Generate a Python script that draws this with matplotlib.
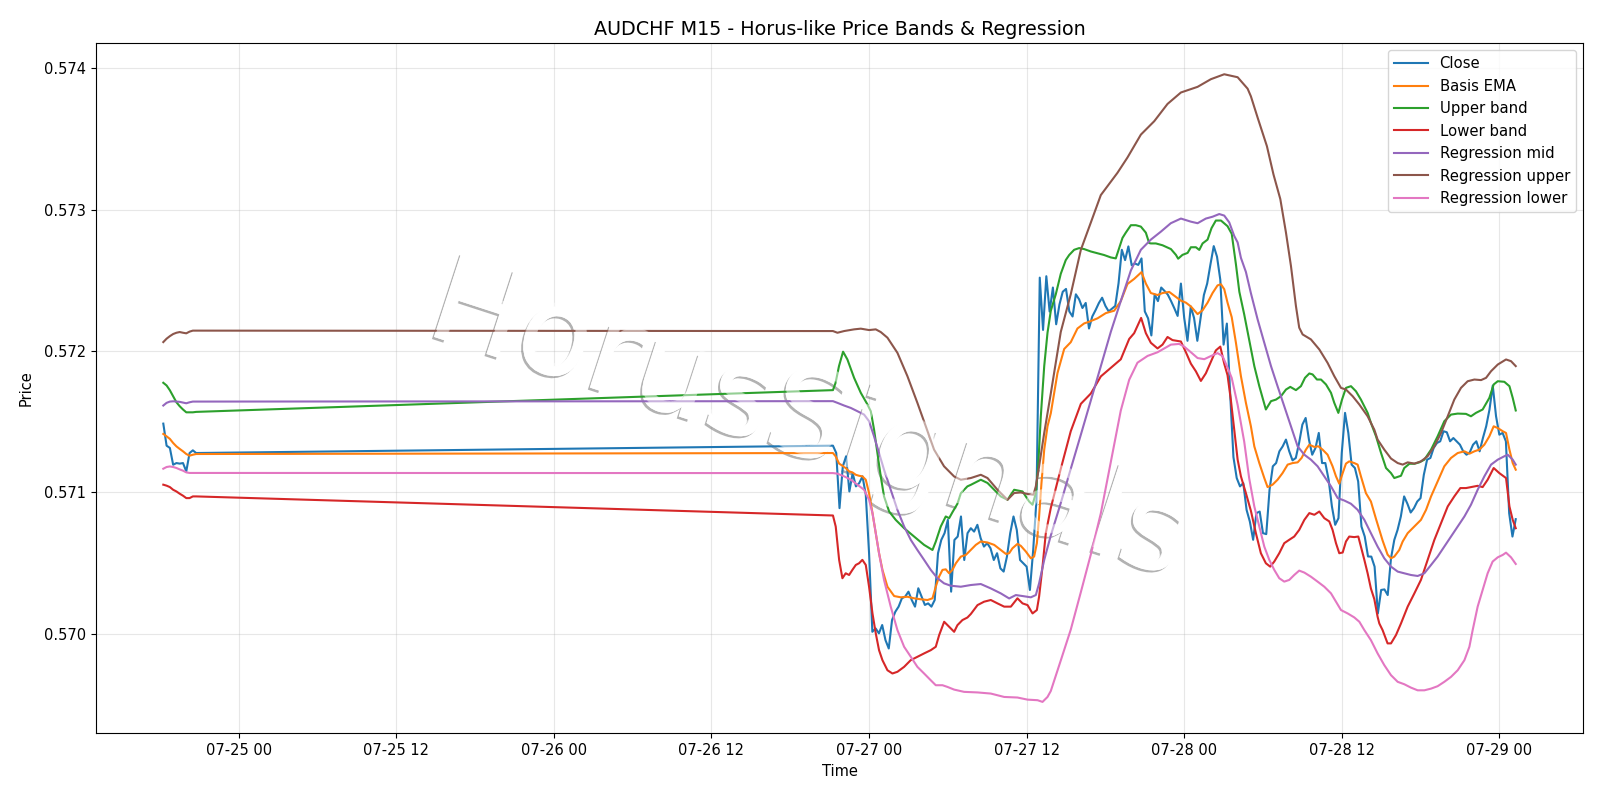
import matplotlib
matplotlib.use("Agg")
import matplotlib.pyplot as plt
import matplotlib.dates as mdates
import matplotlib.patheffects as pe
import pandas as pd
import numpy as np

BASE = pd.Timestamp("2026-07-27 00:00")

# ---- Friday session (hours relative to 07-27 00:00), 15-minute bars ----
fri_hours = [-53.75, -53.5, -53.25, -53.0, -52.75, -52.5, -52.25, -52.0, -51.75, -51.5, -51.25]

close_fri = [0.571487, 0.571331, 0.571315, 0.571196, 0.571208, 0.571204, 0.571208,
             0.571149, 0.571279, 0.571298, 0.571279]
ema_fri = [0.571414, 0.571397, 0.571379, 0.571350, 0.571326, 0.571308, 0.571291,
           0.571272, 0.571260, 0.571267, 0.571272]
upper_fri = [0.571776, 0.571757, 0.571723, 0.571681, 0.571638, 0.571610, 0.571587,
             0.571567, 0.571567, 0.571567, 0.571570]
lower_fri = [0.571055, 0.571048, 0.571038, 0.571019, 0.571007, 0.570991, 0.570977,
             0.570960, 0.570960, 0.570972, 0.570972]
regmid_fri = [0.571615, 0.571634, 0.571643, 0.571645, 0.571643, 0.571641, 0.571636,
              0.571631, 0.571638, 0.571643, 0.571643]
regup_fri = [0.572064, 0.572088, 0.572106, 0.572121, 0.572130, 0.572135, 0.572130,
             0.572126, 0.572138, 0.572145, 0.572145]
reglo_fri = [0.571168, 0.571180, 0.571184, 0.571180, 0.571173, 0.571163, 0.571154,
             0.571142, 0.571138, 0.571138, 0.571138]

# ---- Close from Sunday 07-26 21:15 to 07-29 01:15, 15-minute bars ----
close_week_start = -2.75
close_week = [
    0.571331, 0.571279, 0.570889, 0.571185, 0.571256, 0.571007, 0.571137, 0.571043, 0.571066, 0.571114,
    0.570984, 0.570570, 0.570014, 0.570038, 0.570003, 0.570062, 0.569955, 0.569896, 0.570097, 0.570156,
    0.570192, 0.570251, 0.570263, 0.570298, 0.570239, 0.570192, 0.570322, 0.570263, 0.570204, 0.570215,
    0.570192, 0.570239, 0.570570, 0.570664, 0.570712, 0.570806, 0.570298, 0.570664, 0.570688, 0.570830,
    0.570522, 0.570712, 0.570747, 0.570723, 0.570771, 0.570676, 0.570617, 0.570641, 0.570605, 0.570522,
    0.570570, 0.570463, 0.570440, 0.570546, 0.570712, 0.570830, 0.570735, 0.570522, 0.570499, 0.570475,
    0.570310, 0.570593, 0.570950, 0.572520, 0.572150, 0.572530, 0.572280, 0.572450, 0.572190, 0.572330,
    0.572420, 0.572440, 0.572281, 0.572245, 0.572402, 0.572366, 0.572305, 0.572341, 0.572160, 0.572245,
    0.572290, 0.572340, 0.572378, 0.572320, 0.572281, 0.572300, 0.572320, 0.572480, 0.572717, 0.572644,
    0.572741, 0.572608, 0.572620, 0.572610, 0.572656, 0.572281, 0.572232, 0.572111, 0.572402, 0.572354,
    0.572450, 0.572426, 0.572400, 0.572354, 0.572303, 0.572249, 0.572478, 0.572235, 0.572073, 0.572316,
    0.572235, 0.572073, 0.572235, 0.572397, 0.572478, 0.572614, 0.572743, 0.572668, 0.572505, 0.572046,
    0.572195, 0.571700, 0.571250, 0.571102, 0.571043, 0.571066, 0.570877, 0.570794, 0.570665, 0.570854,
    0.570865, 0.570712, 0.570705, 0.571019, 0.571185, 0.571208, 0.571291, 0.571326, 0.571374, 0.571291,
    0.571227, 0.571244, 0.571350, 0.571480, 0.571527, 0.571374, 0.571267, 0.571315, 0.571421, 0.571208,
    0.571208, 0.571090, 0.570901, 0.570771, 0.570818, 0.571279, 0.571563, 0.571421, 0.571197, 0.571173,
    0.571078, 0.570759, 0.570688, 0.570547, 0.570546, 0.570475, 0.570144, 0.570310, 0.570314, 0.570274,
    0.570534, 0.570664, 0.570735, 0.570830, 0.570972, 0.570920, 0.570858, 0.570889, 0.570936, 0.570960,
    0.571125, 0.571232, 0.571244, 0.571315, 0.571350, 0.571362, 0.571433, 0.571426, 0.571362, 0.571385,
    0.571362, 0.571338, 0.571291, 0.571267, 0.571284, 0.571338, 0.571362, 0.571291, 0.571385, 0.571468,
    0.571586, 0.571756, 0.571539, 0.571409, 0.571421, 0.571362, 0.570853, 0.570688, 0.570811,
]

# ---- Smooth series for the week, read at vertices (hours, value) ----
ema_h = [-2.75, -2.54, -2.28, -2.03, -1.78, -1.52, -1.27, -1.01, -0.76, -0.51, -0.25, 0.0, 0.26, 0.51,
         0.76, 1.02, 1.40, 1.91, 2.42, 2.92, 3.43, 3.94, 4.45, 4.83, 5.08, 5.33, 5.59, 5.84, 6.10, 6.35,
         6.61, 6.99, 7.37, 7.75, 8.13, 8.51, 9.02, 9.53, 10.03, 10.42, 10.67, 10.92, 11.30, 11.56, 11.94,
         12.32, 12.57, 12.78, 12.95, 13.13, 13.34, 13.59, 13.84, 14.35, 14.86, 15.36, 15.87, 16.38, 16.76,
         17.40, 18.03, 18.67, 19.17, 19.68, 20.19, 20.75, 21.08, 21.46, 21.97, 22.35, 22.86, 23.37, 23.75,
         24.13, 24.51, 25.02, 25.40, 25.78, 26.16, 26.54, 26.80, 27.05, 27.30, 27.62, 27.94, 28.32, 28.70,
         29.08, 29.34, 29.72, 30.10, 30.35, 30.73, 31.11, 31.49, 31.88, 32.26, 32.64, 32.94, 33.27, 33.53,
         33.91, 34.21, 34.54, 34.92, 35.30, 35.56, 35.81, 36.07, 36.32, 36.57, 36.95, 37.21, 37.46, 37.84,
         38.22, 38.61, 39.11, 39.49, 39.75, 40.00, 40.38, 40.64, 41.02, 41.53, 42.03, 42.42, 42.80, 43.30,
         43.81, 44.32, 44.83, 45.34, 45.72, 46.10, 46.48, 46.86, 47.24, 47.57, 47.88, 48.26, 48.51, 48.77,
         49.02, 49.25]
ema_v = [0.571279, 0.571255, 0.571204, 0.571189, 0.571173, 0.571149, 0.571142, 0.571125, 0.571118, 0.571114,
         0.571090, 0.570995, 0.570854, 0.570712, 0.570570, 0.570452, 0.570333, 0.570267, 0.570258, 0.570262,
         0.570251, 0.570244, 0.570239, 0.570251, 0.570333, 0.570404, 0.570452, 0.570456, 0.570428, 0.570452,
         0.570499, 0.570546, 0.570558, 0.570593, 0.570629, 0.570653, 0.570646, 0.570629, 0.570593, 0.570565,
         0.570570, 0.570605, 0.570636, 0.570622, 0.570582, 0.570534, 0.570546, 0.570641, 0.570830, 0.571066,
         0.571303, 0.571468, 0.571560, 0.571845, 0.572015, 0.572063, 0.572160, 0.572196, 0.572208, 0.572232,
         0.572269, 0.572286, 0.572354, 0.572475, 0.572511, 0.572559, 0.572478, 0.572411, 0.572397, 0.572411,
         0.572419, 0.572384, 0.572357, 0.572343, 0.572316, 0.572262, 0.572289, 0.572343, 0.572411, 0.572465,
         0.572473, 0.572438, 0.572343, 0.572240, 0.572059, 0.571823, 0.571634, 0.571468, 0.571326, 0.571208,
         0.571102, 0.571038, 0.571055, 0.571090, 0.571137, 0.571197, 0.571208, 0.571213, 0.571244, 0.571303,
         0.571338, 0.571322, 0.571327, 0.571303, 0.571267, 0.571185, 0.571114, 0.571062, 0.571137, 0.571204,
         0.571220, 0.571208, 0.571197, 0.571114, 0.570995, 0.570936, 0.570812, 0.570660, 0.570560, 0.570534,
         0.570546, 0.570593, 0.570653, 0.570712, 0.570759, 0.570806, 0.570877, 0.570972, 0.571078, 0.571185,
         0.571244, 0.571279, 0.571291, 0.571274, 0.571291, 0.571303, 0.571338, 0.571397, 0.571468, 0.571456,
         0.571433, 0.571421, 0.571303, 0.571208, 0.571161]

upper_h = [-2.75, -2.55, -2.29, -1.98, -1.65, -1.14, -0.63, -0.12, 0.13, 0.38, 0.64, 0.89, 1.14, 1.53,
           2.03, 2.67, 3.43, 4.19, 4.83, 5.08, 5.46, 5.84, 6.10, 6.35, 6.73, 6.99, 7.49, 7.75, 8.51, 9.02,
           9.53, 10.03, 10.54, 11.05, 11.69, 12.19, 12.45, 12.70, 12.88, 13.08, 13.34, 13.59, 13.84, 14.22,
           14.60, 14.98, 15.24, 15.62, 16.00, 16.38, 16.89, 17.40, 17.90, 18.41, 18.79, 19.05, 19.30, 19.55,
           19.94, 20.32, 20.70, 21.08, 21.33, 21.46, 21.84, 22.35, 22.99, 23.37, 23.54, 23.87, 24.26, 24.51,
           24.89, 25.15, 25.40, 25.78, 26.08, 26.41, 26.80, 27.30, 27.62, 27.94, 28.20, 28.57, 29.08, 29.34,
           29.72, 30.22, 30.61, 30.99, 31.37, 31.75, 32.08, 32.51, 32.89, 33.20, 33.53, 33.78, 34.11, 34.42,
           34.80, 35.18, 35.43, 35.74, 36.02, 36.32, 36.70, 37.08, 37.46, 37.97, 38.23, 38.61, 38.99, 39.37,
           39.75, 40.00, 40.51, 40.76, 41.15, 41.53, 41.91, 42.29, 42.80, 43.30, 43.81, 44.32, 44.83, 45.46,
           45.84, 46.22, 46.73, 47.24, 47.57, 47.88, 48.38, 48.77, 49.02, 49.25]
upper_v = [0.571724, 0.571776, 0.571894, 0.571996, 0.571941, 0.571811, 0.571705, 0.571622, 0.571575, 0.571445,
           0.571279, 0.571114, 0.570972, 0.570865, 0.570806, 0.570747, 0.570688, 0.570629, 0.570593, 0.570652,
           0.570759, 0.570830, 0.570818, 0.570860, 0.570920, 0.570995, 0.571043, 0.571054, 0.571090, 0.571067,
           0.571019, 0.570972, 0.570948, 0.571019, 0.571007, 0.570936, 0.570913, 0.570995, 0.571185, 0.571539,
           0.571894, 0.572130, 0.572285, 0.572402, 0.572547, 0.572644, 0.572680, 0.572717, 0.572729, 0.572722,
           0.572705, 0.572692, 0.572680, 0.572663, 0.572656, 0.572729, 0.572801, 0.572838, 0.572891, 0.572891,
           0.572881, 0.572838, 0.572765, 0.572762, 0.572762, 0.572749, 0.572722, 0.572681, 0.572654, 0.572681,
           0.572695, 0.572735, 0.572735, 0.572716, 0.572762, 0.572789, 0.572870, 0.572924, 0.572924, 0.572884,
           0.572830, 0.572614, 0.572420, 0.572260, 0.572020, 0.571894, 0.571752, 0.571587, 0.571646, 0.571657,
           0.571681, 0.571728, 0.571747, 0.571724, 0.571752, 0.571811, 0.571842, 0.571835, 0.571799, 0.571799,
           0.571764, 0.571705, 0.571634, 0.571563, 0.571657, 0.571740, 0.571752, 0.571716, 0.571657, 0.571563,
           0.571490, 0.571397, 0.571280, 0.571173, 0.571137, 0.571102, 0.571118, 0.571173, 0.571203, 0.571203,
           0.571213, 0.571232, 0.571303, 0.571397, 0.571504, 0.571551, 0.571558, 0.571556, 0.571539, 0.571563,
           0.571587, 0.571669, 0.571764, 0.571787, 0.571783, 0.571752, 0.571669, 0.571580]

lower_h = [-2.75, -2.54, -2.28, -2.03, -1.78, -1.52, -1.27, -1.01, -0.76, -0.51, -0.25, 0.0, 0.26, 0.51,
           0.76, 1.02, 1.40, 1.78, 2.16, 2.67, 3.17, 3.68, 4.19, 4.70, 5.08, 5.34, 5.72, 6.10, 6.48, 6.73,
           7.11, 7.49, 7.75, 8.26, 8.76, 9.27, 9.78, 10.29, 10.80, 11.30, 11.69, 12.07, 12.45, 12.78, 12.95,
           13.21, 13.46, 13.84, 14.60, 15.36, 16.13, 16.89, 17.65, 18.41, 19.17, 19.81, 20.19, 20.72, 21.08,
           21.46, 21.97, 22.35, 22.73, 23.11, 23.75, 24.13, 24.51, 24.89, 25.27, 25.65, 26.03, 26.41, 26.75,
           27.05, 27.30, 27.56, 27.81, 28.07, 28.32, 28.70, 29.08, 29.46, 29.84, 30.22, 30.55, 30.86, 31.24,
           31.62, 32.00, 32.38, 32.76, 33.15, 33.53, 33.91, 34.29, 34.67, 35.05, 35.30, 35.56, 35.81, 36.07,
           36.32, 36.57, 36.95, 37.26, 37.46, 37.72, 37.97, 38.22, 38.48, 38.73, 38.86, 39.11, 39.49, 39.75,
           40.13, 40.51, 41.02, 41.53, 42.03, 42.54, 43.05, 43.56, 44.07, 44.57, 45.03, 45.46, 45.84, 46.35,
           46.73, 47.11, 47.57, 48.00, 48.51, 48.77, 49.02, 49.25]
lower_v = [0.570837, 0.570759, 0.570523, 0.570393, 0.570428, 0.570416, 0.570452, 0.570487, 0.570499, 0.570523,
           0.570487, 0.570333, 0.570144, 0.570003, 0.569884, 0.569813, 0.569742, 0.569719, 0.569731, 0.569766,
           0.569813, 0.569837, 0.569861, 0.569884, 0.569908, 0.569991, 0.570085, 0.570050, 0.570014, 0.570061,
           0.570097, 0.570115, 0.570140, 0.570203, 0.570227, 0.570239, 0.570215, 0.570192, 0.570192, 0.570251,
           0.570215, 0.570203, 0.570144, 0.570168, 0.570263, 0.570475, 0.570712, 0.570890, 0.571167, 0.571433,
           0.571627, 0.571700, 0.571821, 0.571881, 0.571942, 0.572086, 0.572127, 0.572235, 0.572127, 0.572059,
           0.572019, 0.572046, 0.572100, 0.572078, 0.572068, 0.571992, 0.571911, 0.571857, 0.571789, 0.571843,
           0.571924, 0.572005, 0.572032, 0.571911, 0.571830, 0.571650, 0.571445, 0.571232, 0.571114, 0.570995,
           0.570870, 0.570712, 0.570570, 0.570499, 0.570475, 0.570511, 0.570570, 0.570641, 0.570665, 0.570688,
           0.570735, 0.570806, 0.570854, 0.570842, 0.570865, 0.570818, 0.570795, 0.570735, 0.570641, 0.570570,
           0.570575, 0.570653, 0.570688, 0.570684, 0.570688, 0.570617, 0.570523, 0.570428, 0.570320, 0.570245,
           0.570120, 0.570073, 0.570026, 0.569932, 0.569932, 0.569991, 0.570073, 0.570192, 0.570286, 0.570381,
           0.570522, 0.570664, 0.570782, 0.570901, 0.570972, 0.571031, 0.571031, 0.571038, 0.571047, 0.571038,
           0.571090, 0.571173, 0.571137, 0.571102, 0.570901, 0.570806, 0.570747]

regmid_h = [-2.75, -2.41, -1.90, -1.39, -0.89, -0.38, 0.0, 0.38, 0.76, 1.14, 1.65, 2.16, 2.67, 3.18,
            3.68, 4.19, 4.70, 5.21, 5.71, 6.22, 6.99, 7.75, 8.51, 9.27, 10.03, 10.67, 11.18, 11.69, 12.32,
            12.70, 12.95, 13.34, 13.84, 14.60, 15.36, 16.13, 16.89, 17.65, 18.41, 19.17, 19.94, 20.70, 21.46,
            22.22, 22.98, 23.75, 24.51, 25.02, 25.65, 26.16, 26.67, 27.05, 27.43, 27.81, 28.07, 28.32, 28.70,
            29.08, 29.59, 30.10, 30.61, 31.11, 31.62, 32.13, 32.64, 33.15, 33.65, 34.16, 34.67, 35.18, 35.69,
            36.19, 36.70, 37.21, 37.72, 38.22, 38.73, 39.24, 39.75, 40.26, 40.76, 41.27, 41.78, 42.29, 42.80,
            43.30, 43.81, 44.32, 44.83, 45.34, 45.84, 46.35, 46.86, 47.37, 47.88, 48.38, 48.64, 49.02, 49.25]
regmid_v = [0.571646, 0.571634, 0.571615, 0.571598, 0.571575, 0.571551, 0.571504, 0.571397, 0.571279, 0.571161,
            0.571019, 0.570877, 0.570759, 0.570664, 0.570593, 0.570523, 0.570452, 0.570393, 0.570357, 0.570340,
            0.570333, 0.570345, 0.570352, 0.570321, 0.570286, 0.570250, 0.570274, 0.570267, 0.570258, 0.570274,
            0.570357, 0.570523, 0.570695, 0.570925, 0.571167, 0.571409, 0.571651, 0.571893, 0.572136, 0.572354,
            0.572571, 0.572717, 0.572789, 0.572845, 0.572905, 0.572938, 0.572916, 0.572905, 0.572938, 0.572951,
            0.572970, 0.572959, 0.572911, 0.572815, 0.572769, 0.572660, 0.572560, 0.572410, 0.572225, 0.572059,
            0.571894, 0.571752, 0.571610, 0.571468, 0.571326, 0.571267, 0.571232, 0.571185, 0.571114, 0.571043,
            0.570960, 0.570943, 0.570920, 0.570877, 0.570806, 0.570712, 0.570617, 0.570534, 0.570475, 0.570440,
            0.570428, 0.570416, 0.570409, 0.570428, 0.570487, 0.570546, 0.570617, 0.570688, 0.570759, 0.570830,
            0.570913, 0.571019, 0.571114, 0.571197, 0.571232, 0.571256, 0.571267, 0.571232, 0.571197]

regup_h = [-2.75, -2.41, -1.90, -1.14, -0.63, 0.0, 0.51, 0.89, 1.40, 2.16, 2.92, 3.68, 4.32, 4.95, 5.71,
           6.48, 6.99, 7.75, 8.51, 9.02, 9.78, 10.54, 11.05, 11.56, 12.07, 12.52, 12.70, 12.95, 13.34, 13.84,
           14.60, 15.36, 16.13, 16.89, 17.65, 18.92, 19.68, 20.70, 21.72, 22.73, 23.75, 25.02, 26.03, 27.05,
           28.07, 28.83, 29.08, 29.60, 30.30, 30.80, 31.32, 31.75, 32.13, 32.51, 32.76, 33.02, 33.65, 34.29,
           34.92, 35.43, 35.94, 36.32, 36.83, 37.34, 37.97, 38.48, 38.73, 39.24, 39.75, 40.26, 40.64, 41.02,
           41.53, 42.03, 42.54, 43.05, 43.56, 44.07, 44.57, 45.08, 45.59, 46.10, 46.61, 46.99, 47.37, 47.88,
           48.51, 48.89, 49.25]
regup_v = [0.572142, 0.572130, 0.572142, 0.572154, 0.572159, 0.572149, 0.572154, 0.572135, 0.572095, 0.571988,
           0.571823, 0.571634, 0.571468, 0.571303, 0.571185, 0.571113, 0.571090, 0.571102, 0.571125, 0.571102,
           0.571019, 0.570948, 0.570996, 0.571000, 0.570989, 0.570984, 0.571043, 0.571185, 0.571421, 0.571700,
           0.572136, 0.572402, 0.572717, 0.572910, 0.573104, 0.573262, 0.573370, 0.573532, 0.573627, 0.573749,
           0.573830, 0.573870, 0.573924, 0.573959, 0.573938, 0.573857, 0.573803, 0.573650, 0.573450, 0.573250,
           0.573076, 0.572839, 0.572603, 0.572319, 0.572166, 0.572118, 0.572083, 0.572012, 0.571917, 0.571823,
           0.571740, 0.571728, 0.571681, 0.571622, 0.571539, 0.571444, 0.571374, 0.571303, 0.571240, 0.571208,
           0.571197, 0.571213, 0.571204, 0.571220, 0.571256, 0.571326, 0.571421, 0.571539, 0.571657, 0.571740,
           0.571787, 0.571799, 0.571795, 0.571811, 0.571858, 0.571905, 0.571941, 0.571929, 0.571894]

reglo_h = [-2.75, -2.41, -1.90, -1.39, -0.89, -0.38, 0.0, 0.26, 0.51, 0.76, 1.14, 1.65, 2.16, 2.67, 3.18,
           3.68, 4.19, 4.70, 5.08, 5.59, 5.97, 6.48, 7.24, 8.26, 9.27, 10.29, 11.30, 12.07, 12.83, 13.21,
           13.59, 13.84, 14.60, 15.36, 16.13, 16.89, 17.65, 18.41, 19.17, 19.81, 20.44, 21.21, 21.97, 22.48,
           22.99, 23.62, 24.00, 24.51, 25.02, 25.53, 26.03, 26.54, 26.92, 27.30, 27.62, 28.07, 28.57, 28.95,
           29.34, 29.72, 30.10, 30.48, 30.86, 31.24, 31.62, 32.00, 32.38, 32.76, 33.15, 33.65, 34.16, 34.67,
           35.18, 35.56, 35.94, 36.45, 36.95, 37.34, 37.72, 38.22, 38.73, 39.24, 39.75, 40.26, 40.76, 41.27,
           41.78, 42.29, 42.80, 43.30, 43.81, 44.32, 44.83, 45.34, 45.72, 45.97, 46.35, 46.73, 47.11, 47.49,
           47.88, 48.26, 48.51, 48.89, 49.25]
reglo_v = [0.571137, 0.571133, 0.571114, 0.571090, 0.571055, 0.571019, 0.570948, 0.570854, 0.570712, 0.570570,
           0.570381, 0.570192, 0.570026, 0.569908, 0.569837, 0.569766, 0.569719, 0.569671, 0.569636, 0.569636,
           0.569624, 0.569605, 0.569589, 0.569585, 0.569577, 0.569553, 0.569549, 0.569534, 0.569530, 0.569518,
           0.569553, 0.569595, 0.569811, 0.570029, 0.570295, 0.570562, 0.570852, 0.571215, 0.571579, 0.571797,
           0.571918, 0.571966, 0.571992, 0.572019, 0.572046, 0.572051, 0.572032, 0.571992, 0.571951, 0.571943,
           0.571965, 0.571986, 0.571965, 0.571884, 0.571810, 0.571620, 0.571360, 0.571100, 0.570901, 0.570759,
           0.570617, 0.570523, 0.570452, 0.570393, 0.570369, 0.570381, 0.570416, 0.570447, 0.570433, 0.570404,
           0.570369, 0.570333, 0.570286, 0.570227, 0.570168, 0.570144, 0.570116, 0.570085, 0.570026, 0.569955,
           0.569861, 0.569778, 0.569707, 0.569660, 0.569643, 0.569619, 0.569600, 0.569600, 0.569612, 0.569629,
           0.569660, 0.569695, 0.569742, 0.569813, 0.569908, 0.570026, 0.570192, 0.570310, 0.570428, 0.570511,
           0.570541, 0.570558, 0.570574, 0.570541, 0.570494]

WATERMARK = "HorusSignals"


def to_time(hours):
    return BASE + pd.to_timedelta(np.asarray(hours, dtype=float), unit="h")


close_hours = list(fri_hours) + [close_week_start + 0.25 * i for i in range(len(close_week))]
close_vals = list(close_fri) + close_week

series = [
    ("Close", close_hours, close_vals),
    ("Basis EMA", fri_hours + ema_h, ema_fri + ema_v),
    ("Upper band", fri_hours + upper_h, upper_fri + upper_v),
    ("Lower band", fri_hours + lower_h, lower_fri + lower_v),
    ("Regression mid", fri_hours + regmid_h, regmid_fri + regmid_v),
    ("Regression upper", fri_hours + regup_h, regup_fri + regup_v),
    ("Regression lower", fri_hours + reglo_h, reglo_fri + reglo_v),
]

plt.rcParams["font.size"] = 10.5

fig, ax = plt.subplots(figsize=(16, 8), dpi=100)
fig.subplots_adjust(left=0.0598, right=0.9896, bottom=0.0834, top=0.9464)
for name, hrs, vals in series:
    ax.plot(to_time(hrs), vals, label=name, linewidth=1.5, zorder=2)

ax.set_title("AUDCHF M15 - Horus-like Price Bands & Regression", fontsize=13.8)
ax.set_xlabel("Time")
ax.set_ylabel("Price", labelpad=7.5)
ax.grid(True, alpha=0.3)
ax.xaxis.set_major_locator(mdates.HourLocator(byhour=[0, 12]))
ax.xaxis.set_major_formatter(mdates.DateFormatter("%m-%d %H"))

wm_kw = dict(fontsize=87, rotation=-18, ha="center", va="center",
             transform=fig.transFigure, clip_on=False)
# watermark: shadow outline beneath the lines, translucent white glyph above them
ax.text(0.505, 0.471, WATERMARK, color="white", alpha=1.0, zorder=1.6,
        path_effects=[pe.withSimplePatchShadow(offset=(-1.5, -1.5), shadow_rgbFace="0.4", alpha=0.5),
                      pe.Normal()], **wm_kw)
ax.text(0.505, 0.471, WATERMARK, color="white", alpha=0.5, zorder=3, **wm_kw)

leg = ax.legend(loc="upper right", fontsize=10.75, handlelength=2.25)
leg.set_zorder(5)

fig.savefig("out.png", dpi=100)
